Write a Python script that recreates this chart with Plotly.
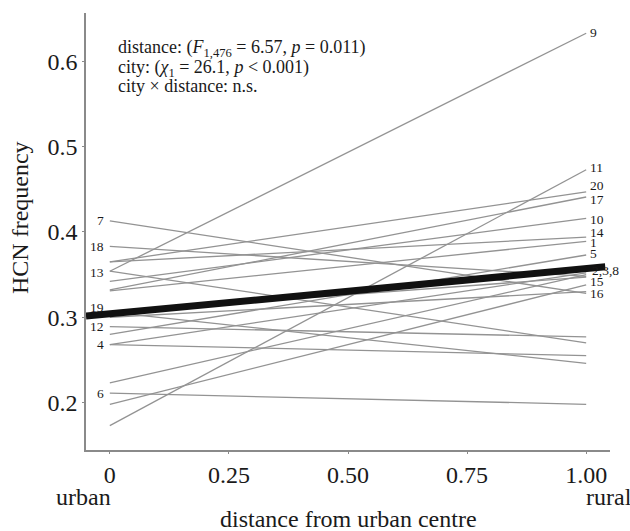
import plotly.graph_objects as go

# ---- data -------------------------------------------------------------
populations = [str(i) for i in range(1, 21)]
hcn_urban = [0.331, 0.268, 0.223, 0.268, 0.280, 0.211, 0.413, 0.306, 0.354, 0.342,
             0.173, 0.289, 0.354, 0.365, 0.198, 0.300, 0.332, 0.383, 0.306, 0.365]
hcn_rural = [0.389, 0.352, 0.350, 0.255, 0.373, 0.198, 0.328, 0.347, 0.633, 0.416,
             0.473, 0.277, 0.270, 0.394, 0.338, 0.330, 0.441, 0.348, 0.246, 0.447]
label_side = ["R", "R", "R", "L", "R", "L", "L", "R", "R", "R",
              "R", "L", "L", "R", "R", "R", "R", "L", "L", "R"]
overall_intercept = 0.304
overall_slope = 0.053
overall_x = [-0.05, 1.04]

x_ticks = [0, 0.25, 0.5, 0.75, 1.0]
x_ticklabels = ["0", "0.25", "0.50", "0.75", "1.00"]
y_ticks = [0.2, 0.3, 0.4, 0.5, 0.6]
y_ticklabels = ["0.2", "0.3", "0.4", "0.5", "0.6"]

# ---- styles -----------------------------------------------------------
FONT = "'Liberation Serif', 'Times New Roman', Times, serif"
TXT = "#1a1a1a"
GREY = "#939393"
AX = "#8a8a8a"
# pixel nudges of labels (positive = up)
label_shift = {"9": 1, "11": 2, "20": 6, "17": -2, "10": -1, "14": 5, "1": -1,
               "5": 2, "15": 3, "16": -2, "19": 5, "13": -1}

fig = go.Figure()
for name, a, b in zip(populations, hcn_urban, hcn_rural):
    fig.add_trace(go.Scatter(x=[0, 1], y=[a, b], mode="lines",
                             line=dict(color=GREY, width=1.3),
                             showlegend=False, hoverinfo="skip"))

fig.add_trace(go.Scatter(
    x=overall_x,
    y=[overall_intercept + overall_slope * v for v in overall_x],
    mode="lines", line=dict(color="#111111", width=7),
    showlegend=False, hoverinfo="skip"))

anns = []
cluster = {"2", "3", "8"}
for name, a, b, side in zip(populations, hcn_urban, hcn_rural, label_side):
    if name in cluster:
        continue
    if side == "L":
        anns.append(dict(x=0, y=a, text=name, xanchor="right", xshift=-4,
                         yshift=label_shift.get(name, 0), showarrow=False,
                         font=dict(family=FONT, size=13.5, color=TXT)))
    else:
        anns.append(dict(x=1, y=b, text=name, xanchor="left", xshift=2,
                         yshift=label_shift.get(name, 0), showarrow=False,
                         font=dict(family=FONT, size=13.5, color=TXT)))
idx3 = populations.index("3")
anns.append(dict(x=1, y=hcn_rural[idx3], text="2,3,8", xanchor="left", xshift=4,
                 yshift=4, showarrow=False,
                 font=dict(family=FONT, size=13.5, color=TXT)))

stat_lines = [
    "distance: (<i>F</i><sub>1,476</sub> = 6.57, <i>p</i> = 0.011)",
    "city: (<i>χ</i><sub>1</sub> = 26.1, <i>p</i> < 0.001)",
    "city × distance: n.s.",
]
stat_y = [49, 68, 86]
for t, py in zip(stat_lines, stat_y):
    anns.append(dict(xref="paper", yref="paper", x=(116 - 86) / 524,
                     y=(450 - py) / 437, text=t, xanchor="left", yanchor="middle",
                     showarrow=False, font=dict(family=FONT, size=18, color=TXT)))

anns.append(dict(xref="paper", yref="paper", x=(83 - 86) / 524, y=(450 - 497) / 437,
                 text="urban", showarrow=False, xanchor="center", yanchor="middle",
                 font=dict(family=FONT, size=24, color=TXT)))
anns.append(dict(xref="paper", yref="paper", x=(609 - 86) / 524, y=(450 - 497) / 437,
                 text="rural", showarrow=False, xanchor="center", yanchor="middle",
                 font=dict(family=FONT, size=24, color=TXT)))
anns.append(dict(xref="paper", yref="paper", x=(348 - 86) / 524, y=(450 - 519) / 437,
                 text="distance from urban centre", showarrow=False,
                 xanchor="center", yanchor="middle",
                 font=dict(family=FONT, size=24, color=TXT)))
anns.append(dict(xref="paper", yref="paper", x=(20 - 86) / 524, y=(450 - 218) / 437,
                 text="HCN frequency", showarrow=False, textangle=-90,
                 xanchor="center", yanchor="middle",
                 font=dict(family=FONT, size=24, color=TXT)))

fig.update_layout(
    width=630, height=531,
    margin=dict(l=86, r=20, t=13, b=81),
    paper_bgcolor="white", plot_bgcolor="white",
    font=dict(family=FONT, color=TXT),
    annotations=anns,
    xaxis=dict(range=[-0.05, 1.05], tickvals=x_ticks, ticktext=x_ticklabels,
               showgrid=False, zeroline=False, showline=True, linecolor=AX,
               linewidth=1.5, ticks="outside", ticklen=2, tickcolor=AX,
               tickfont=dict(family=FONT, size=24, color=TXT)),
    yaxis=dict(range=[0.1444, 0.6567], tickvals=y_ticks, ticktext=y_ticklabels,
               showgrid=False, zeroline=False, showline=True, linecolor=AX,
               linewidth=1.5, ticks="outside", ticklen=2, tickcolor=AX,
               tickfont=dict(family=FONT, size=24, color=TXT)),
)

fig.write_html("out.html")
